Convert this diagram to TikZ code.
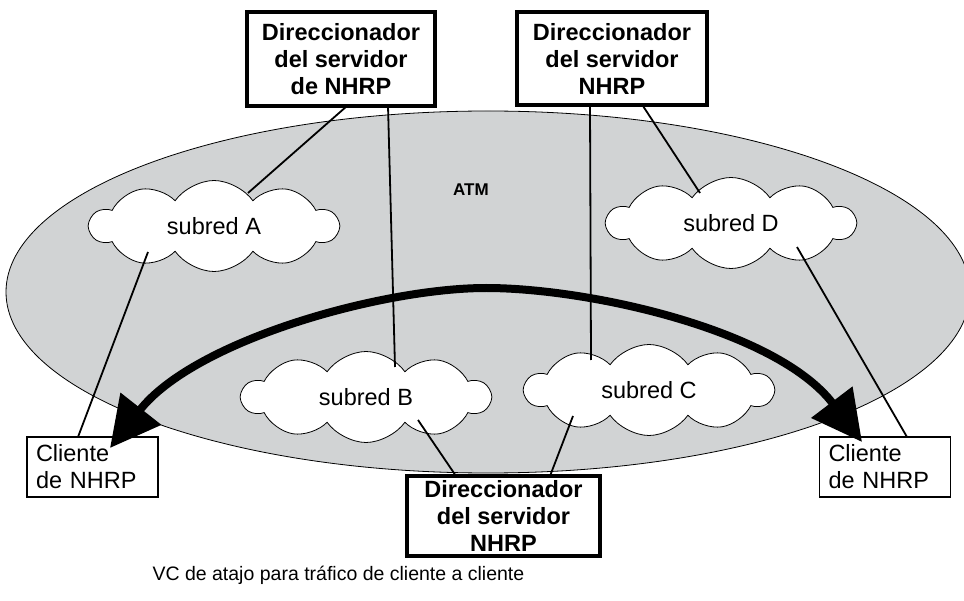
\documentclass[tikz,border=0pt]{standalone}
\usepackage{fontspec}
\setmainfont{Liberation Sans}
\usetikzlibrary{shapes.symbols,arrows.meta}
\definecolor{atmgray}{RGB}{209,211,212}
\tikzset{
  srvbox/.style={draw, line width=4pt, fill=white, align=center, font=\bfseries\fontsize{23.5}{27}\selectfont, inner sep=0pt},
  clibox/.style={draw, line width=1.1pt, fill=white, align=left, font=\fontsize{23.5}{27}\selectfont, inner sep=0pt, minimum width=131pt, minimum height=60pt, text width=113pt},
  subnet/.style={cloud, cloud puffs=10, cloud puff arc=110, aspect=2.7, draw, line width=0.8pt, fill=white, minimum width=248pt, minimum height=91pt, inner sep=0pt, font=\fontsize{23.5}{27}\selectfont},
  link/.style={line width=1.8pt},
  vc/.style={line width=8pt, -{Triangle[length=50pt,width=50pt]}},
}
\begin{document}
\begin{tikzpicture}[x=1pt,y=-1pt]
\useasboundingbox (0,0) rectangle (964,601);
% ATM network
\draw[fill=atmgray, line width=0.8pt] (488,292) ellipse [x radius=482, y radius=181];
\node[font=\bfseries\fontsize{17}{20}\selectfont] (atm) at (471,190) {ATM};
% subnets
\node[subnet] (sa) at (214,226) {subred A};
\node[subnet] (sd) at (731,223) {subred D};
\node[subnet] (sb) at (366,397) {subred B};
\node[subnet] (sc) at (649,390) {subred C};
% server boxes
\node[srvbox, minimum width=188pt, minimum height=94pt] (s1) at (341,59) {Direccionador\\del servidor\\de NHRP};
\node[srvbox, minimum width=190pt, minimum height=93pt] (s2) at (612,59) {Direccionador\\del servidor\\NHRP};
\node[srvbox, minimum width=193pt, minimum height=80pt] (s3) at (503.5,516) {Direccionador\\del servidor\\NHRP};
% client boxes
\node[clibox] (c1) at (92.5,467) {Cliente\\de NHRP};
\node[clibox] (c2) at (885,467) {Cliente\\de NHRP};
% connection points
\coordinate (s1a) at (347,106);
\coordinate (sa1) at (248,193);
\coordinate (s1b) at (388,106);
\coordinate (sb1) at (395,367);
\coordinate (sa2) at (148,252);
\coordinate (c1t) at (78,437);
\coordinate (s2a) at (590,106);
\coordinate (sc1) at (591,360);
\coordinate (s2b) at (643,106);
\coordinate (sd1) at (700,193);
\coordinate (sd2) at (797,247);
\coordinate (c2t) at (907,437);
\coordinate (sb2) at (418,420);
\coordinate (s3a) at (456,476);
\coordinate (sc2) at (573,416);
\coordinate (s3b) at (550,476);
% links
\draw[link] (s1a) -- (sa1);
\draw[link] (s1b) -- (sb1);
\draw[link] (sa2) -- (c1t);
\draw[link] (s2a) -- (sc1);
\draw[link] (s2b) -- (sd1);
\draw[link] (sd2) -- (c2t);
\draw[link] (sb2) -- (s3a);
\draw[link] (sc2) -- (s3b);
% shortcut VC
\coordinate (vcl) at (110,448);
\coordinate (vcr) at (862,442);
\coordinate (vct) at (486,288);
\draw[vc] (vct) .. controls (589,288) and (777,330) .. (vcr);
\draw[vc] (vct) .. controls (383,288) and (195,340) .. (vcl);
% caption
\node[font=\fontsize{19.5}{23}\selectfont, anchor=west] (cap) at (149,575) {VC de atajo para tráfico de cliente a cliente};
\end{tikzpicture}
\end{document}
